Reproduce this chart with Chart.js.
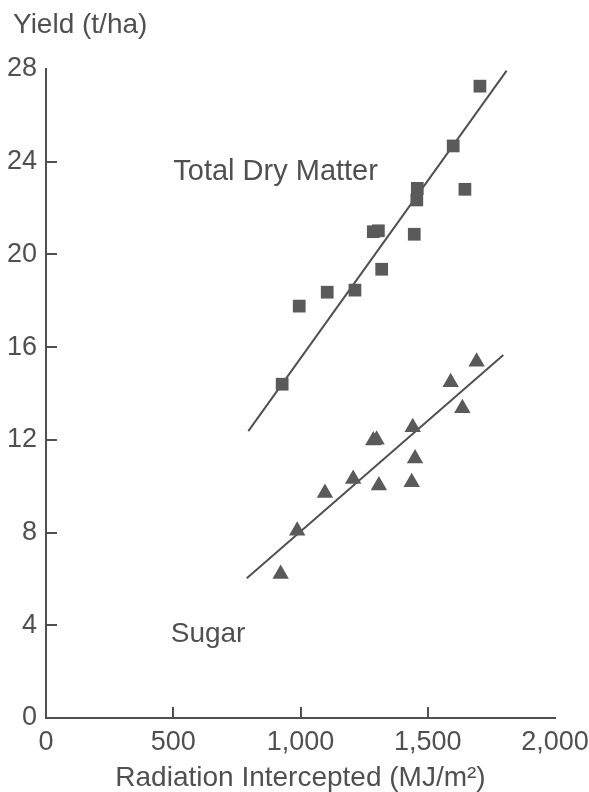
<!DOCTYPE html>
<html>
<head>
<meta charset="utf-8">
<script src="https://cdn.jsdelivr.net/npm/chart.js@4"></script>
<style>
  html, body { margin: 0; padding: 0; background: #fff; }
  #wrap { width: 589px; height: 792px; }
</style>
</head>
<body>
<div id="wrap"><canvas id="yieldChart" width="589" height="792"></canvas></div>
<script>
// radiation intercepted (MJ/m2) and yield (t/ha)
const tdmX = [1705, 1600, 1646, 1459, 1457, 1286, 1306, 1447, 1319, 1214, 1105, 995, 928];
const tdmY = [27.26, 24.68, 22.81, 22.85, 22.35, 20.98, 21.02, 20.87, 19.36, 18.46, 18.37, 17.77, 14.4];

const sugarX = [1692, 1590, 1636, 1441, 1286, 1299, 1450, 1207, 1308, 1437, 1096, 987, 922];
const sugarY = [15.37, 14.48, 13.36, 12.54, 11.97, 12.01, 11.2, 10.31, 10.03, 10.17, 9.71, 8.08, 6.21];

// fitted lines (end points)
const tdmFitX = [795, 1810];
const tdmFitY = [12.38, 27.93];
const sugarFitX = [789, 1797];
const sugarFitY = [6.03, 15.66];

const xTicks = [0, 500, 1000, 1500, 2000];
const yTicks = [0, 4, 8, 12, 16, 20, 24, 28];

const ink = '#505050';
const font = 'Liberation Sans, Arial, Helvetica, sans-serif';

function toPoints(xs, ys) {
    return xs.map((x, i) => ({ x: x, y: ys[i] }));
}

// text labels placed in data units
const seriesLabels = [
    { text: 'Total Dry Matter', x: 500, y: 23.2, size: 29 },
    { text: 'Sugar', x: 490, y: 3.3, size: 28 }
];

const innerTicks = {
    id: 'innerTicks',
    afterDraw(chart) {
        const ctx = chart.ctx;
        const xs = chart.scales.x;
        const ys = chart.scales.y;
        const area = chart.chartArea;
        ctx.save();
        ctx.strokeStyle = ink;
        ctx.lineWidth = 2;
        ctx.beginPath();
        yTicks.forEach(v => {
            if (v === 0 || v === 28) return;
            const py = Math.round(ys.getPixelForValue(v));
            ctx.moveTo(area.left, py);
            ctx.lineTo(area.left + 11, py);
        });
        xTicks.forEach(v => {
            if (v === 0 || v === 2000) return;
            const px = Math.round(xs.getPixelForValue(v));
            ctx.moveTo(px, area.bottom);
            ctx.lineTo(px, area.bottom - 11);
        });
        ctx.stroke();

        ctx.fillStyle = ink;
        ctx.textAlign = 'left';
        // y axis title, top left
        ctx.textBaseline = 'middle';
        ctx.font = '28px ' + font;
        ctx.fillText('Yield (t/ha)', 13, 25);

        ctx.textBaseline = 'alphabetic';
        seriesLabels.forEach(l => {
            ctx.font = l.size + 'px ' + font;
            ctx.fillText(l.text, xs.getPixelForValue(l.x), ys.getPixelForValue(l.y));
        });
        ctx.restore();
    }
};

new Chart(document.getElementById('yieldChart'), {
    type: 'scatter',
    data: {
        datasets: [
            {
                label: 'Total Dry Matter',
                data: toPoints(tdmX, tdmY),
                pointStyle: 'rect',
                pointRadius: 9,
                backgroundColor: '#5a5a5a',
                borderColor: '#5a5a5a',
                borderWidth: 0,
                order: 1
            },
            {
                label: 'Sugar',
                data: toPoints(sugarX, sugarY),
                pointStyle: 'triangle',
                pointRadius: 9.5,
                backgroundColor: '#5a5a5a',
                borderColor: '#5a5a5a',
                borderWidth: 0,
                order: 1
            },
            {
                label: 'TDM fit',
                data: toPoints(tdmFitX, tdmFitY),
                showLine: true,
                pointRadius: 0,
                borderColor: ink,
                borderWidth: 2,
                clip: false,
                order: 2
            },
            {
                label: 'Sugar fit',
                data: toPoints(sugarFitX, sugarFitY),
                showLine: true,
                pointRadius: 0,
                borderColor: ink,
                borderWidth: 2,
                clip: false,
                order: 2
            }
        ]
    },
    options: {
        responsive: false,
        animation: false,
        layout: {
            padding: { left: 0, right: 0, top: 69, bottom: 0 }
        },
        plugins: {
            legend: { display: false },
            tooltip: { enabled: false },
            title: { display: false }
        },
        scales: {
            x: {
                type: 'linear',
                min: 0,
                max: 2000,
                afterBuildTicks: axis => { axis.ticks = xTicks.map(v => ({ value: v })); },
                afterFit: axis => {
                    axis.height = 74;
                    axis.paddingRight = 34;
                },
                grid: { display: false, drawTicks: false },
                border: { display: true, color: ink, width: 2 },
                ticks: {
                    color: ink,
                    padding: 8,
                    maxRotation: 0,
                    autoSkip: false,
                    font: { family: font, size: 27 },
                    callback: v => v.toLocaleString('en-US')
                },
                title: {
                    display: true,
                    text: 'Radiation Intercepted (MJ/m²)',
                    color: ink,
                    font: { family: font, size: 28 },
                    padding: { top: 0, bottom: -3 }
                }
            },
            y: {
                type: 'linear',
                min: 0,
                max: 28,
                afterBuildTicks: axis => { axis.ticks = yTicks.map(v => ({ value: v })); },
                afterFit: axis => { axis.width = 46; },
                grid: { display: false, drawTicks: false },
                border: { display: true, color: ink, width: 2 },
                ticks: {
                    color: ink,
                    padding: 9,
                    autoSkip: false,
                    font: { family: font, size: 27 }
                }
            }
        }
    },
    plugins: [innerTicks]
});
</script>
</body>
</html>
